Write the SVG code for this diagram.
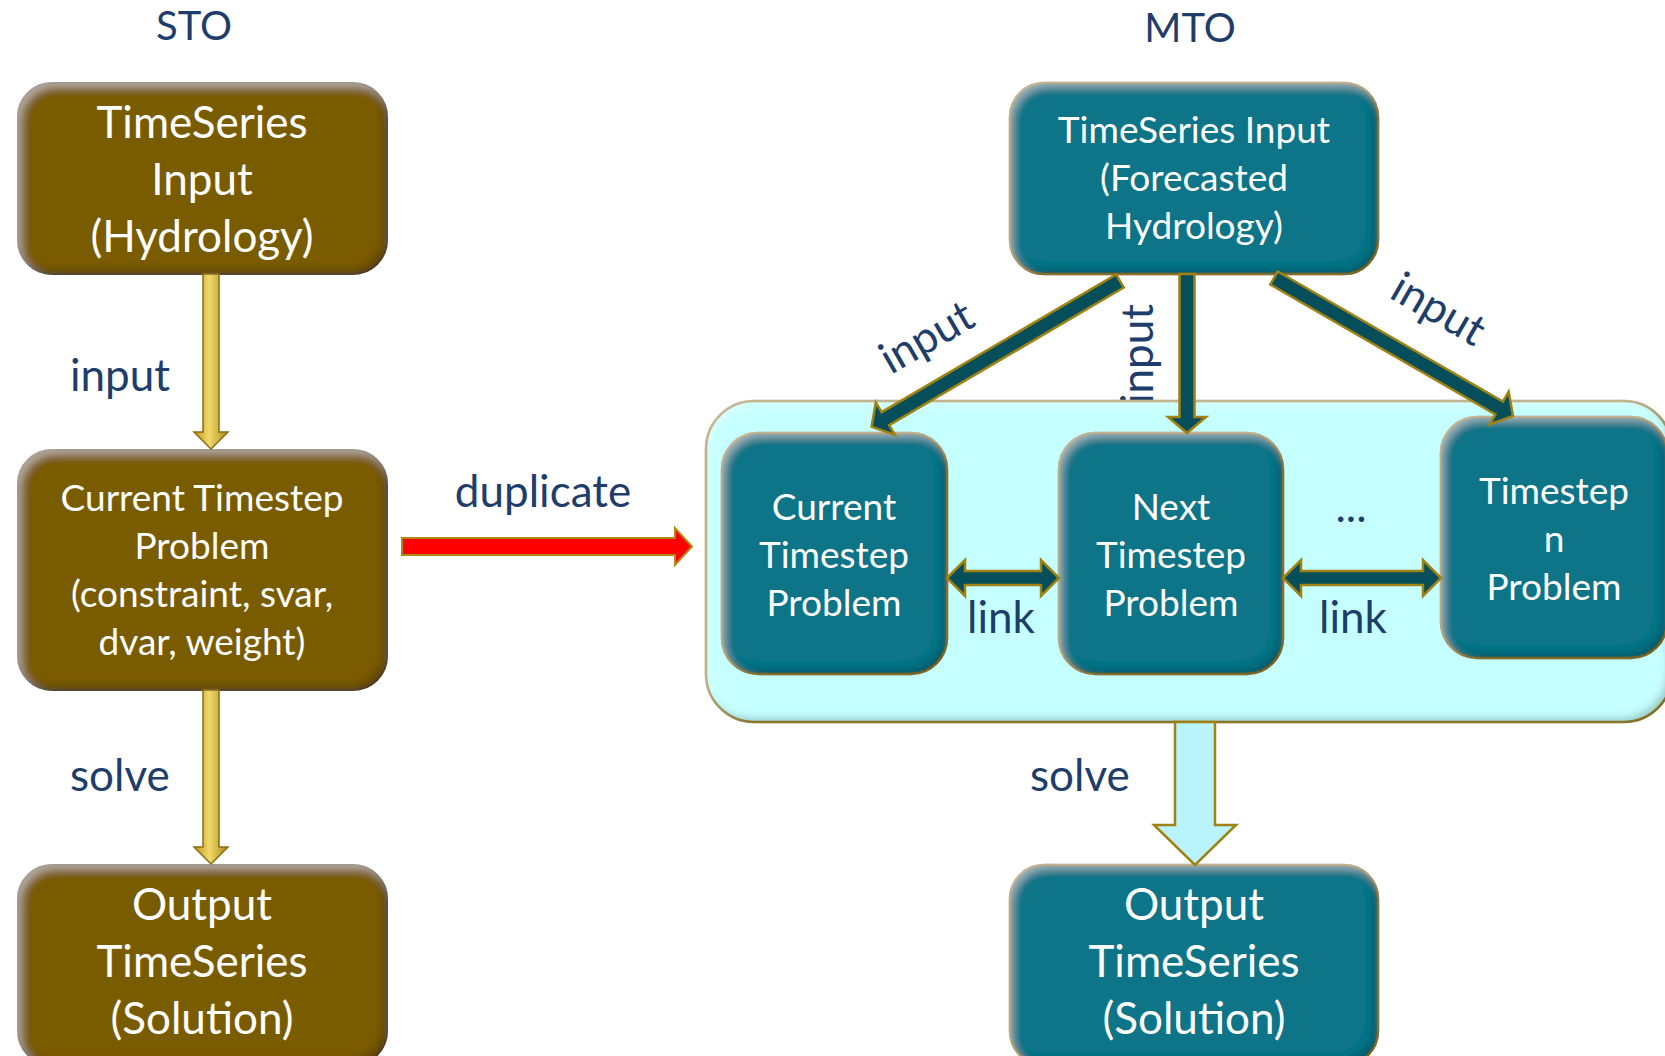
<svg xmlns="http://www.w3.org/2000/svg" width="1665" height="1056" viewBox="0 0 1665 1056">
<defs>
<style>
.sto{fill:#7A5B06;stroke:#5E4604;stroke-width:2}
.teal{fill:#077587;stroke:#9A7A10;stroke-width:2.5}
.cont{fill:#C6FFFF;stroke:#A48A1C;stroke-width:2.5}
.bt{font-family:Lato,"Open Sans",sans-serif;fill:#FFFFFF;text-anchor:middle}
.lbl{font-family:Lato,"Open Sans",sans-serif;fill:#1E3D6B;font-size:44px}
.title{font-family:Lato,"Open Sans",sans-serif;fill:#1E3D6B;font-size:40px;text-anchor:middle}
.darr{fill:#054E5A;stroke:#A08214;stroke-width:2.5;stroke-linejoin:miter}
.garr{fill:url(#gold);stroke:#8A6D10;stroke-width:1.5}
</style>
<linearGradient id="gold" x1="0" y1="0" x2="1" y2="0">
<stop offset="0" stop-color="#B8961E"/>
<stop offset="0.45" stop-color="#F3DA6A"/>
<stop offset="1" stop-color="#A8881A"/>
</linearGradient>
<filter id="bevel" x="-5%" y="-5%" width="110%" height="110%">
<feGaussianBlur in="SourceAlpha" stdDeviation="4" result="b"/>
<feOffset in="b" dx="-5" dy="-5" result="o1"/>
<feComposite in="SourceAlpha" in2="o1" operator="out" result="e1"/>
<feFlood flood-color="#000000" flood-opacity="0.45"/>
<feComposite in2="e1" operator="in" result="dark"/>
<feOffset in="b" dx="4" dy="5" result="o2"/>
<feComposite in="SourceAlpha" in2="o2" operator="out" result="e2"/>
<feFlood flood-color="#FFFFFF" flood-opacity="0.35"/>
<feComposite in2="e2" operator="in" result="light"/>
<feMerge><feMergeNode in="SourceGraphic"/><feMergeNode in="dark"/><feMergeNode in="light"/></feMerge>
</filter>
</defs>
<rect width="1665" height="1056" fill="#FFFFFF"/>

<text class="title" x="194" y="40">STO</text>
<text class="title" x="1190" y="42">MTO</text>

<g id="sto-input">
<rect class="sto" x="18" y="83" width="369" height="191" rx="34" filter="url(#bevel)"/>
<text class="bt" font-size="44" x="202" y="138">TimeSeries<tspan x="202" dy="57">Input</tspan><tspan x="202" dy="57">(Hydrology)</tspan></text>
</g>
<g id="sto-problem">
<rect class="sto" x="18" y="450" width="369" height="240" rx="34" filter="url(#bevel)"/>
<text class="bt" font-size="37" x="202" y="511">Current Timestep<tspan x="202" dy="48">Problem</tspan><tspan x="202" dy="48">(constraint, svar,</tspan><tspan x="202" dy="48">dvar, weight)</tspan></text>
</g>
<g id="sto-output">
<rect class="sto" x="18" y="865" width="369" height="200" rx="34" filter="url(#bevel)"/>
<text class="bt" font-size="44" x="202" y="920">Output<tspan x="202" dy="57">TimeSeries</tspan><tspan x="202" dy="57">(Solution)</tspan></text>
</g>

<text class="lbl" transform="translate(1153,354) rotate(-90)" text-anchor="middle">input</text>

<g id="mto-container">
<rect class="cont" x="706" y="401" width="966" height="321" rx="48" filter="url(#bevel)"/>
</g>

<g id="mto-input">
<rect class="teal" x="1010" y="83" width="368" height="191" rx="34" filter="url(#bevel)"/>
<text class="bt" font-size="37" x="1194" y="143">TimeSeries Input<tspan x="1194" dy="48">(Forecasted</tspan><tspan x="1194" dy="48">Hydrology)</tspan></text>
</g>
<g id="mto-current">
<rect class="teal" x="722" y="433" width="225" height="241" rx="36" filter="url(#bevel)"/>
<text class="bt" font-size="37" x="834" y="520">Current<tspan x="834" dy="48">Timestep</tspan><tspan x="834" dy="48">Problem</tspan></text>
</g>
<g id="mto-next">
<rect class="teal" x="1059" y="433" width="224" height="241" rx="36" filter="url(#bevel)"/>
<text class="bt" font-size="37" x="1171" y="520">Next<tspan x="1171" dy="48">Timestep</tspan><tspan x="1171" dy="48">Problem</tspan></text>
</g>
<g id="mto-n">
<rect class="teal" x="1441" y="417" width="226" height="241" rx="36" filter="url(#bevel)"/>
<text class="bt" font-size="37" x="1554" y="504">Timestep<tspan x="1554" dy="48">n</tspan><tspan x="1554" dy="48">Problem</tspan></text>
</g>
<g id="mto-output">
<rect class="teal" x="1010" y="865" width="368" height="200" rx="34" filter="url(#bevel)"/>
<text class="bt" font-size="44" x="1194" y="920">Output<tspan x="1194" dy="57">TimeSeries</tspan><tspan x="1194" dy="57">(Solution)</tspan></text>
</g>

<g id="connectors">
<path class="garr" d="M203,274 L219,274 L219,432 L228,432 L211,449 L194,432 L203,432 Z"/>
<path class="garr" d="M203,690 L219,690 L219,847 L228,847 L211,864 L194,847 L203,847 Z"/>
<path d="M402,538 L675,538 L675,528 L692,546.5 L675,565 L675,555 L402,555 Z" fill="#FF0000" stroke="#B08A10" stroke-width="2"/>
<path class="darr" d="M0,-7.5 L272,-7.5 L272,-19 L288,0 L272,19 L272,7.5 L0,7.5 Z" transform="translate(1120,281) rotate(149.6)"/>
<path class="darr" d="M0,-7.5 L143,-7.5 L143,-19 L159,0 L143,19 L143,7.5 L0,7.5 Z" transform="translate(1187,274) rotate(90)"/>
<path class="darr" d="M0,-7.5 L260,-7.5 L260,-19 L276,0 L260,19 L260,7.5 L0,7.5 Z" transform="translate(1274,278) rotate(30)"/>
<path class="darr" d="M947,578 L965,560 L965,571 L1041,571 L1041,560 L1059,578 L1041,596 L1041,585 L965,585 L965,596 Z"/>
<path class="darr" d="M1283,578 L1301,560 L1301,571 L1423,571 L1423,560 L1441,578 L1423,596 L1423,585 L1301,585 L1301,596 Z"/>
<path d="M1175,722 L1215,722 L1215,825 L1236,825 L1195,865 L1154,825 L1175,825 Z" fill="#B9F3FB" stroke="#A08214" stroke-width="2.5"/>
</g>

<g id="labels">
<text class="lbl" x="70" y="391">input</text>
<text class="lbl" x="70" y="791">solve</text>
<text class="lbl" x="543" y="507" text-anchor="middle">duplicate</text>
<text class="lbl" transform="translate(934,350) rotate(-30)" text-anchor="middle">input</text>
<text class="lbl" transform="translate(1431,322) rotate(30)" text-anchor="middle">input</text>
<text class="lbl" x="1001" y="633" text-anchor="middle">link</text>
<text class="lbl" x="1353" y="633" text-anchor="middle">link</text>
<text class="lbl" x="1351" y="522" text-anchor="middle">...</text>
<text class="lbl" x="1030" y="791">solve</text>
</g>
</svg>
